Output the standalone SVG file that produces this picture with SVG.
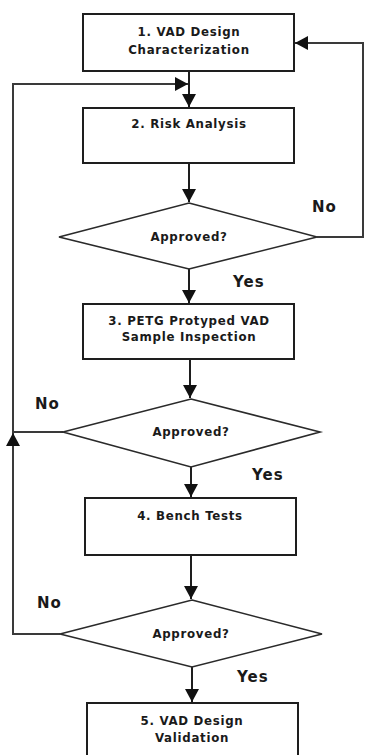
<svg xmlns="http://www.w3.org/2000/svg" width="365" height="755" viewBox="0 0 365 755">
<style>
.box{fill:#fff;stroke:#1e1e1e;stroke-width:2}
.dia{fill:#fff;stroke:#2a2a2a;stroke-width:1.6}
.t{font-family:"DejaVu Sans",Verdana,sans-serif;font-weight:bold;font-size:11.8px;letter-spacing:0.7px;fill:#1a1a1a;text-anchor:middle}
.lbl{font-family:"DejaVu Sans",Verdana,sans-serif;font-weight:bold;font-size:15px;letter-spacing:1px;fill:#1a1a1a}
.c{fill:none;stroke:#1e1e1e;stroke-width:2}
.loop{fill:none;stroke:#3a3a3a;stroke-width:2}
</style>
<defs>
<marker id="ah" markerUnits="userSpaceOnUse" markerWidth="14" markerHeight="14" viewBox="0 0 14 14" refX="13" refY="7" orient="auto">
<path d="M0,0 L13,7 L0,14 Z" fill="#111"/>
</marker>
</defs>
<g id="connectors">
<path class="c" d="M189 71 V107" marker-end="url(#ah)"/>
<path class="c" d="M189 163 V202" marker-end="url(#ah)"/>
<path class="c" d="M189 269 V303" marker-end="url(#ah)"/>
<path class="c" d="M190 359 V398" marker-end="url(#ah)"/>
<path class="c" d="M191 467 V497" marker-end="url(#ah)"/>
<path class="c" d="M191 555 V599" marker-end="url(#ah)"/>
<path class="c" d="M192 667 V702" marker-end="url(#ah)"/>
<path class="loop" d="M317 237 H363 V43 H295" marker-end="url(#ah)"/>
<path class="loop" d="M60 634 H13 V433" marker-end="url(#ah)"/>
<path class="loop" d="M63 432 H13"/>
<path class="loop" d="M13 433 V84 H188" marker-end="url(#ah)"/>
</g>
<g id="n1"><rect class="box" x="83" y="14" width="211" height="57"/><text class="t" x="189" y="36">1. VAD Design</text><text class="t" x="189" y="54">Characterization</text></g>
<g id="n2"><rect class="box" x="83" y="108" width="211" height="55"/><text class="t" x="189" y="128">2. Risk Analysis</text></g>
<g id="d1"><polygon class="dia" points="189,203 317,237 189,269 59,237"/><text class="t" x="189" y="241">Approved?</text></g>
<g id="n3"><rect class="box" x="83" y="304" width="211" height="55"/><text class="t" x="189" y="325">3. PETG Protyped VAD</text><text class="t" x="189" y="341">Sample Inspection</text></g>
<g id="d2"><polygon class="dia" points="191,399 320,432 191,467 63,432"/><text class="t" x="191" y="436">Approved?</text></g>
<g id="n4"><rect class="box" x="85" y="498" width="211" height="57"/><text class="t" x="190" y="520">4. Bench Tests</text></g>
<g id="d3"><polygon class="dia" points="192,600 322,634 192,667 60,634"/><text class="t" x="191" y="638">Approved?</text></g>
<g id="n5"><rect class="box" x="87" y="703" width="211" height="60"/><text class="t" x="192" y="725">5. VAD Design</text><text class="t" x="192" y="742">Validation</text></g>
<g id="labels">
<text class="lbl" x="312" y="212">No</text>
<text class="lbl" x="233" y="287">Yes</text>
<text class="lbl" x="35" y="409">No</text>
<text class="lbl" x="252" y="480">Yes</text>
<text class="lbl" x="37" y="608">No</text>
<text class="lbl" x="237" y="682">Yes</text>
</g>
</svg>
